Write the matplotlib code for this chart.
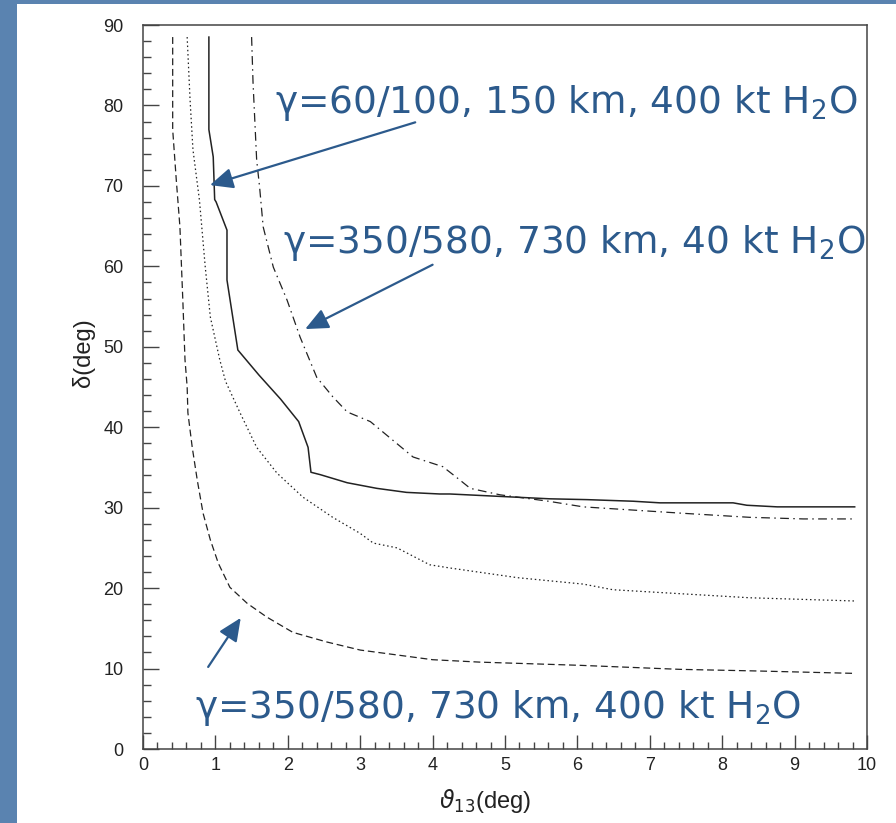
import matplotlib.pyplot as plt
from matplotlib.patches import Rectangle

# curve: gamma=60/100, 150 km, 400 kt (solid)
solid_x = [0.91, 0.91, 0.97, 0.99, 1.01, 1.16, 1.16, 1.31, 1.60, 1.90, 2.15, 2.28, 2.32,
           2.45, 2.82, 3.23, 3.64, 4.10, 4.24, 5.62, 6.13, 6.77, 7.14, 8.15, 8.34, 8.76, 9.83]
solid_y = [88.5, 77.0, 73.6, 68.3, 68.0, 64.5, 58.3, 49.6, 46.5, 43.5, 40.7, 37.5, 34.4,
           34.1, 33.1, 32.4, 31.9, 31.7, 31.7, 31.1, 31.0, 30.8, 30.6, 30.6, 30.3, 30.1, 30.1]

# curve: gamma=350/580, 730 km, 40 kt (dash-dot)
dashdot_x = [1.50, 1.52, 1.57, 1.61, 1.66, 1.80, 1.99, 2.17, 2.40, 2.62, 2.82, 3.14, 3.73,
             4.14, 4.34, 4.52, 4.93, 5.60, 6.08, 6.77, 7.46, 8.38, 9.12, 9.83]
dashdot_y = [88.5, 82.8, 73.2, 69.9, 64.9, 59.9, 55.8, 51.2, 46.2, 43.8, 41.9, 40.7, 36.3,
             35.1, 33.7, 32.4, 31.6, 30.8, 30.1, 29.7, 29.3, 28.8, 28.6, 28.6]

# unlabelled dotted curve
dotted_x = [0.61, 0.65, 0.69, 0.78, 0.86, 0.93, 1.06, 1.14, 1.34, 1.57, 1.85, 2.21, 2.62,
            3.00, 3.18, 3.51, 3.96, 4.24, 5.17, 6.08, 6.49, 7.24, 8.38, 9.83]
dotted_y = [88.5, 80.7, 74.5, 68.2, 59.9, 53.7, 48.4, 45.7, 41.8, 37.5, 34.3, 31.3, 28.8,
            26.8, 25.6, 25.0, 22.9, 22.5, 21.3, 20.5, 19.8, 19.4, 18.8, 18.4]

# curve: gamma=350/580, 730 km, 400 kt (dashed)
dashed_x = [0.41, 0.41, 0.46, 0.51, 0.55, 0.58, 0.61, 0.62, 0.68, 0.75, 0.83, 0.93, 1.04,
            1.20, 1.44, 1.71, 2.07, 2.54, 3.00, 4.00, 4.65, 6.04, 7.42, 8.48, 9.83]
dashed_y = [88.5, 77.0, 70.7, 64.9, 55.8, 48.4, 45.0, 41.8, 37.5, 33.4, 29.3, 26.0, 23.1,
            20.1, 18.1, 16.4, 14.5, 13.3, 12.3, 11.1, 10.8, 10.4, 9.9, 9.7, 9.4]

labels = ['γ=60/100, 150 km, 400 kt H$_2$O',
          'γ=350/580, 730 km, 40 kt H$_2$O',
          'γ=350/580, 730 km, 400 kt H$_2$O']
label_pos = [(1.82, 79.1), (1.93, 61.7), (0.72, 3.85)]
arrow_tail = [(3.76, 77.9), (4.00, 60.2), (0.90, 10.2)]
arrow_tip = [(0.925, 70.1), (2.24, 52.2), (1.35, 16.3)]

blue = '#2c5a8c'
ink = '#222222'

fig = plt.figure(figsize=(8.96, 8.23), dpi=100)
fig.patch.set_facecolor('#5a83b0')
fig.patches.append(Rectangle((17 / 896, 0), 1, (823 - 4) / 823, transform=fig.transFigure,
                             facecolor='white', edgecolor='none', zorder=-10))

ax = fig.add_axes([143 / 896, 74 / 823, 724 / 896, 724 / 823])
ax.set_xlim(0, 10)
ax.set_ylim(0, 90)

ax.plot(solid_x, solid_y, color=ink, lw=1.1)
ax.plot(dashdot_x, dashdot_y, color=ink, lw=0.9, dashes=(7, 3.5, 1.2, 3.5))
ax.plot(dotted_x, dotted_y, color=ink, lw=0.9, dashes=(1.2, 2.2))
ax.plot(dashed_x, dashed_y, color=ink, lw=0.9, dashes=(5.5, 3))

for s in ax.spines.values():
    s.set_color('#444444')
    s.set_linewidth(1.1)

ax.set_xticks(range(0, 11))
ax.set_yticks(range(0, 91, 10))
ax.set_xticks([i * 0.2 for i in range(51)], minor=True)
ax.set_yticks(range(0, 91, 2), minor=True)
ax.tick_params(axis='both', which='both', direction='in', color='#444444', width=1.0,
               labelcolor=ink, labelsize=13)
ax.tick_params(axis='x', which='major', length=10, pad=6)
ax.tick_params(axis='x', which='minor', length=5)
ax.tick_params(axis='y', which='major', length=11.5, pad=14)
ax.tick_params(axis='y', which='minor', length=5.5)
for lab in ax.get_xticklabels() + ax.get_yticklabels():
    lab.set_family('Liberation Sans')

ax.set_xlabel(r'$\vartheta_{13}$(deg)', fontsize=17, color=ink, family='Liberation Sans')
ax.set_ylabel('δ(deg)', fontsize=17, color=ink, family='Liberation Sans')
ax.xaxis.set_label_coords(0.472, -0.052)
ax.yaxis.set_label_coords(-0.066, 0.548)

for text, pos in zip(labels, label_pos):
    ax.text(pos[0], pos[1], text, color=blue, fontsize=27, family='DejaVu Sans',
            va='baseline', ha='left', clip_on=False)

for tail, tip in zip(arrow_tail, arrow_tip):
    ax.annotate('', xy=tip, xytext=tail,
                arrowprops=dict(arrowstyle='-|>,head_length=1.0,head_width=0.45',
                                mutation_scale=14, color=blue, lw=1.6,
                                shrinkA=0, shrinkB=0))

fig.savefig('out.png', dpi=100, facecolor=fig.get_facecolor())
